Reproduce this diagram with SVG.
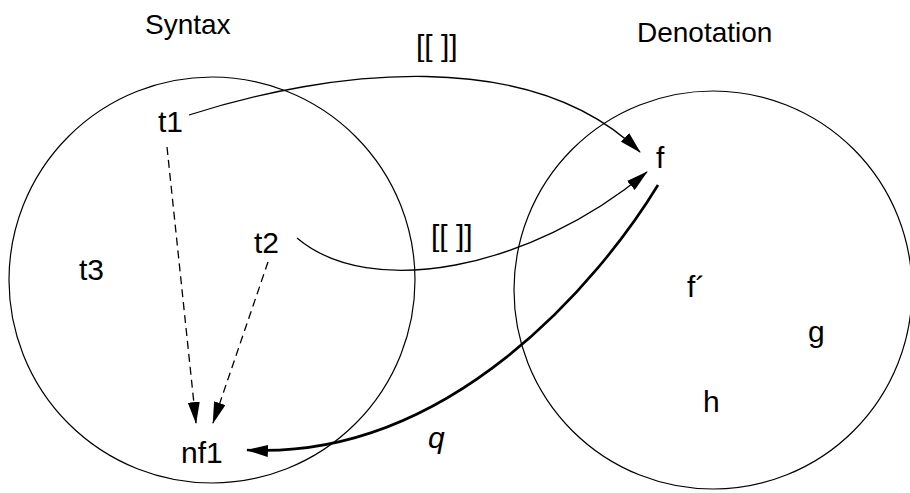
<svg xmlns="http://www.w3.org/2000/svg" width="910" height="493" viewBox="0 0 910 493">
<style>
text{font-family:"Liberation Sans",Arial,sans-serif;font-size:30px;fill:#000}
.title{font-size:28px}
.set{fill:none;stroke:#000;stroke-width:1.2}
.thin{fill:none;stroke:#000;stroke-width:1.3}
.dash{fill:none;stroke:#000;stroke-width:1.3;stroke-dasharray:8 5}
.thick{fill:none;stroke:#000;stroke-width:2.6}
</style>
<defs>
<marker id="ah" markerUnits="userSpaceOnUse" markerWidth="22" markerHeight="12" refX="21" refY="6" orient="auto">
<path d="M0,0 L22,6 L0,12 Z" fill="#000"/>
</marker>
</defs>
<g id="syntax">
<circle class="set" cx="212" cy="280" r="203"/>
<text class="title" x="145" y="34">Syntax</text>
</g>
<g id="denotation">
<circle class="set" cx="713" cy="290" r="199"/>
<text class="title" x="637" y="42">Denotation</text>
</g>
<g id="t1"><text x="158" y="132">t1</text></g>
<g id="t2"><text x="254" y="253">t2</text></g>
<g id="t3"><text x="79" y="280">t3</text></g>
<g id="nf1"><text x="181" y="463">nf1</text></g>
<g id="f"><text x="656" y="168">f</text></g>
<g id="fprime"><text x="687" y="297">f´</text></g>
<g id="g"><text x="808" y="342">g</text></g>
<g id="h"><text x="703" y="412">h</text></g>
<g id="connectors">
<path class="thin" d="M189,115 C330,70 530,45 640,152" marker-end="url(#ah)"/>
<path class="thin" d="M297,238 C370,300 530,270 647,172" marker-end="url(#ah)"/>
<path class="thick" d="M658,185 C600,280 450,460 247,450" marker-end="url(#ah)"/>
<path class="dash" d="M167,147 L196,423" marker-end="url(#ah)"/>
<path class="dash" d="M268,262 L213,423" marker-end="url(#ah)"/>
<text x="416" y="56">[[ ]]</text>
<text x="431" y="246">[[ ]]</text>
<text x="428" y="448" font-style="italic">q</text>
</g>
</svg>
